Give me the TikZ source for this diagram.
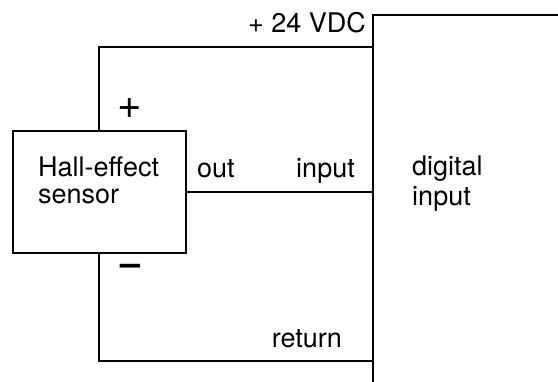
\documentclass[tikz,border=0pt]{standalone}
\usepackage{fontspec}
\setmainfont{TeX Gyre Heros}
\begin{document}
\begin{tikzpicture}[x=1pt,y=-1pt,
  wire/.style={line width=2pt,line cap=rect},
  box/.style={draw,line width=2pt,minimum width=173pt,minimum height=122pt,inner sep=0pt},
  lbl/.style={font=\fontsize{27}{32}\selectfont,inner sep=0pt},
  sign/.style={font=\fontsize{42}{42}\selectfont,inner sep=0pt}]
\useasboundingbox (0,0) rectangle (558,382);
\node[box] (sensor) at (99.5,192) {};
\coordinate (dtop) at (373,15);
\coordinate (dright) at (560,15);
\coordinate (dbot) at (373,384);
\coordinate (vp) at (373,47);
\coordinate (vin) at (373,192);
\coordinate (vret) at (373,361);
\coordinate (ptop) at (99,47);
\coordinate (pbot) at (99,361);
\draw[wire] (dright) -- (dtop) -- (dbot);
\draw[wire] (sensor.north -| ptop) -- (ptop) -- (vp);
\draw[wire] (sensor.east) -- (vin);
\draw[wire] (sensor.south -| pbot) -- (pbot) -- (vret);
\node[lbl,anchor=base east] (vdc) at (366,33) {+ 24 VDC};
\node[sign] (plus) at (129.5,109) {+};
\node[sign,font=\fontsize{36}{36}\bfseries] (minus) at (131,270) {–};
\node[lbl,anchor=base west] (out) at (197,178) {out};
\node[lbl,anchor=base east] (inp) at (355,178) {input};
\node[lbl,anchor=base west] (hall) at (38,177) {Hall-effect};
\node[lbl,anchor=base west] (sens) at (38,204) {sensor};
\node[lbl,anchor=base west] (dig) at (412,176) {digital};
\node[lbl,anchor=base west] (dinp) at (412,206) {input};
\node[lbl,anchor=base east] (ret) at (342,348) {return};
\end{tikzpicture}
\end{document}
